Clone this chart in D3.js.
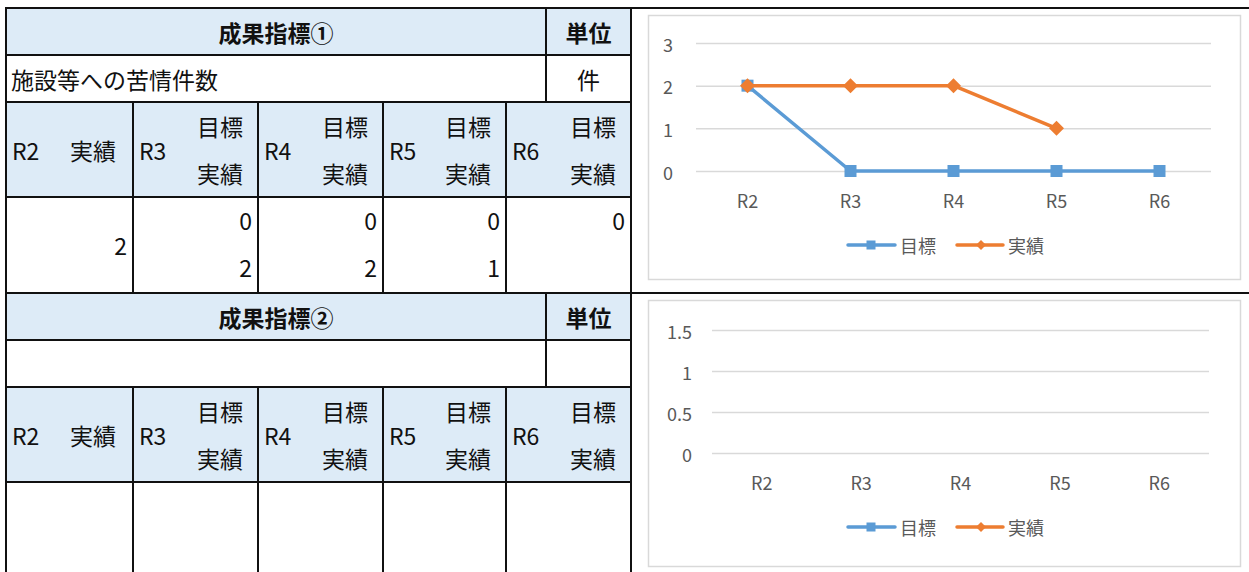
<!DOCTYPE html>
<html>
<head>
<meta charset="utf-8">
<script src="https://cdn.jsdelivr.net/npm/d3@7"></script>
<style>
  html, body { margin: 0; padding: 0; background: #fff; }
  svg { display: block; }
</style>
</head>
<body>
<div id="root"></div>
<script>
// ── Data ─────────────────────────────────────────────────────────
const YEARS = ['R2', 'R3', 'R4', 'R5', 'R6'];
const SERIES_NAMES = ['目標', '実績'];

// indicator ①
const TARGET_1 = [2, 0, 0, 0, 0];
const ACTUAL_1 = [2, 2, 2, 1, null];
const TICKS_1 = [0, 1, 2, 3];

// indicator ②（空）
const TARGET_2 = [null, null, null, null, null];
const ACTUAL_2 = [null, null, null, null, null];
const TICKS_2 = [0, 0.5, 1, 1.5];

const TITLES = ['成果指標①', '成果指標②'];
const NAMES = ['施設等への苦情件数', ''];
const UNITS = ['件', ''];

// ── Style ────────────────────────────────────────────────────────
const C = {
  line: '#111',
  head: '#ddebf7',
  blue: '#5b9bd5',
  orange: '#ed7d31',
  grid: '#d9d9d9',
  tick: '#595959',
  text: '#111',
};
const FONT = "'Noto Sans CJK JP','Noto Sans',sans-serif";
const FS = 23;   // table text
const AFS = 18;  // chart text

const W = 1249, H = 572;
const svg = d3.select('#root').append('svg')
  .attr('width', W).attr('height', H)
  .attr('font-family', FONT);

svg.append('rect').attr('width', W).attr('height', H).attr('fill', '#fff');

// table column edges
const COLS = [6, 133, 258, 383, 506, 631];
const UNIT_X = 546;

function txt(g, x, y, s, anchor, opts = {}) {
  return g.append('text').attr('x', x).attr('y', y)
    .attr('text-anchor', anchor || 'start').attr('dominant-baseline', 'central')
    .attr('font-size', opts.size || FS).attr('font-weight', opts.bold ? 'bold' : null)
    .attr('fill', C.text).text(s);
}

function drawTable(top, title, name, unit, target, actual) {
  const r1 = top, r2 = top + 47, r3 = top + 94, r4 = top + 189, r5 = Math.min(top + 284, H + 2);
  const g = svg.append('g');

  // fills
  g.append('rect').attr('x', COLS[0]).attr('y', r1).attr('width', COLS[5] - COLS[0]).attr('height', r2 - r1).attr('fill', C.head);
  g.append('rect').attr('x', COLS[0]).attr('y', r3).attr('width', COLS[5] - COLS[0]).attr('height', r4 - r3).attr('fill', C.head);

  txt(g, (COLS[0] + UNIT_X) / 2, (r1 + r2) / 2, title, 'middle', { bold: true });
  txt(g, (UNIT_X + COLS[5]) / 2, (r1 + r2) / 2, '単位', 'middle', { bold: true });
  txt(g, 11, (r2 + r3) / 2, name, 'start');
  txt(g, (UNIT_X + COLS[5]) / 2, (r2 + r3) / 2, unit, 'middle');

  const midH = (r3 + r4) / 2;
  YEARS.forEach((yr, i) => {
    const x0 = COLS[i], x1 = COLS[i + 1];
    txt(g, x0 + 6, midH, yr, 'start');
    if (i === 0) {
      txt(g, x1 - 17, midH, SERIES_NAMES[1], 'end');
    } else {
      txt(g, x1 - 15, r3 + 24, SERIES_NAMES[0], 'end');
      txt(g, x1 - 15, r3 + 71, SERIES_NAMES[1], 'end');
    }
    if (i === 0) {
      if (actual[i] != null) txt(g, x1 - 6, (r4 + r5) / 2, actual[i], 'end');
    } else {
      if (target[i] != null) txt(g, x1 - 6, r4 + 23, target[i], 'end');
      if (actual[i] != null) txt(g, x1 - 6, r4 + 70, actual[i], 'end');
    }
  });

  const hl = (y, xa, xb) => g.append('line').attr('x1', xa).attr('x2', xb).attr('y1', y).attr('y2', y)
    .attr('stroke', C.line).attr('stroke-width', 2);
  const vl = (x, ya, yb) => g.append('line').attr('x1', x).attr('x2', x).attr('y1', ya).attr('y2', yb)
    .attr('stroke', C.line).attr('stroke-width', 2);
  hl(r2, COLS[0], COLS[5]);
  hl(r3, COLS[0], COLS[5]);
  hl(r4, COLS[0], COLS[5]);
  vl(UNIT_X, r1, r3);
  COLS.slice(1, 5).forEach(x => vl(x, r3, r5));
}

function marker(g, type, x, y, color, s) {
  if (type === 'square') {
    g.append('rect').attr('x', x - s).attr('y', y - s).attr('width', 2 * s).attr('height', 2 * s).attr('fill', color);
  } else {
    const d = s * 1.25;
    g.append('path').attr('d', `M${x},${y - d}L${x + d},${y}L${x},${y + d}L${x - d},${y}Z`).attr('fill', color);
  }
}

function drawChart(box, plot, ticks, target, actual) {
  const g = svg.append('g');
  g.append('rect').attr('x', box.x + 0.5).attr('y', box.y + 0.5).attr('width', box.w).attr('height', box.h)
    .attr('fill', '#fff').attr('stroke', C.grid).attr('stroke-width', 1.5);

  const x = d3.scaleBand().domain(YEARS).range([plot.left, plot.right]);
  const y = d3.scaleLinear().domain([0, d3.max(ticks)]).range([plot.bottom, plot.top]);

  const yAxis = d3.axisLeft(y).tickValues(ticks).tickSize(-(plot.right - plot.left)).tickPadding(plot.pad)
    .tickFormat(d3.format('~g'));
  const ya = g.append('g').attr('transform', `translate(${plot.left},0)`).call(yAxis);
  ya.select('.domain').remove();
  ya.selectAll('line').attr('stroke', C.grid).attr('stroke-width', 1.5);
  ya.selectAll('text').attr('fill', C.tick).attr('font-size', AFS).attr('font-family', FONT)
    .attr('dy', null).attr('dominant-baseline', 'central');

  const xAxis = d3.axisBottom(x).tickSize(0).tickPadding(0);
  const xa = g.append('g').attr('transform', `translate(0,${plot.bottom})`).call(xAxis);
  xa.select('.domain').remove();
  xa.selectAll('text').attr('fill', C.tick).attr('font-size', AFS).attr('font-family', FONT)
    .attr('y', plot.xoff).attr('dy', null).attr('dominant-baseline', 'central');

  const cx = d => x(d) + x.bandwidth() / 2;
  const line = d3.line().defined(d => d[1] != null).x(d => cx(d[0])).y(d => y(d[1]));

  const tData = YEARS.map((k, i) => [k, target[i]]);
  const aData = YEARS.map((k, i) => [k, actual[i]]);

  g.append('path').attr('d', line(tData)).attr('fill', 'none').attr('stroke', C.blue)
    .attr('stroke-width', 3.5).attr('stroke-linejoin', 'round');
  tData.filter(d => d[1] != null).forEach(d => marker(g, 'square', cx(d[0]), y(d[1]), C.blue, 6));

  g.append('path').attr('d', line(aData)).attr('fill', 'none').attr('stroke', C.orange)
    .attr('stroke-width', 3.5).attr('stroke-linejoin', 'round');
  aData.filter(d => d[1] != null).forEach(d => marker(g, 'diamond', cx(d[0]), y(d[1]), C.orange, 6));

  // legend
  const ly = plot.legendY;
  g.append('line').attr('x1', 848).attr('x2', 895).attr('y1', ly).attr('y2', ly)
    .attr('stroke', C.blue).attr('stroke-width', 3.5).attr('stroke-linecap', 'round');
  marker(g, 'square', 871, ly, C.blue, 4.5);
  g.append('text').attr('x', 900).attr('y', ly).attr('dominant-baseline', 'central')
    .attr('font-size', AFS).attr('fill', C.tick).text(SERIES_NAMES[0]);
  g.append('line').attr('x1', 957).attr('x2', 1003).attr('y1', ly).attr('y2', ly)
    .attr('stroke', C.orange).attr('stroke-width', 3.5).attr('stroke-linecap', 'round');
  marker(g, 'diamond', 981, ly, C.orange, 4);
  g.append('text').attr('x', 1008).attr('y', ly).attr('dominant-baseline', 'central')
    .attr('font-size', AFS).attr('fill', C.tick).text(SERIES_NAMES[1]);
}

drawTable(8, TITLES[0], NAMES[0], UNITS[0], TARGET_1, ACTUAL_1);
drawTable(293, TITLES[1], NAMES[1], UNITS[1], TARGET_2, ACTUAL_2);

drawChart({ x: 648, y: 15, w: 592, h: 264 },
  { left: 696, right: 1211, top: 43, bottom: 171, pad: 23, xoff: 29, legendY: 245 },
  TICKS_1, TARGET_1, ACTUAL_1);
drawChart({ x: 648, y: 300, w: 592, h: 266 },
  { left: 712, right: 1209, top: 330, bottom: 453, pad: 20, xoff: 29, legendY: 527 },
  TICKS_2, TARGET_2, ACTUAL_2);

// outer frame lines
const frame = svg.append('g').attr('stroke', C.line).attr('stroke-width', 2);
frame.append('line').attr('x1', 5).attr('x2', W).attr('y1', 8).attr('y2', 8);
frame.append('line').attr('x1', 5).attr('x2', W).attr('y1', 293).attr('y2', 293);
frame.append('line').attr('x1', 6).attr('x2', 6).attr('y1', 8).attr('y2', H);
frame.append('line').attr('x1', 631).attr('x2', 631).attr('y1', 8).attr('y2', H);
</script>
</body>
</html>
